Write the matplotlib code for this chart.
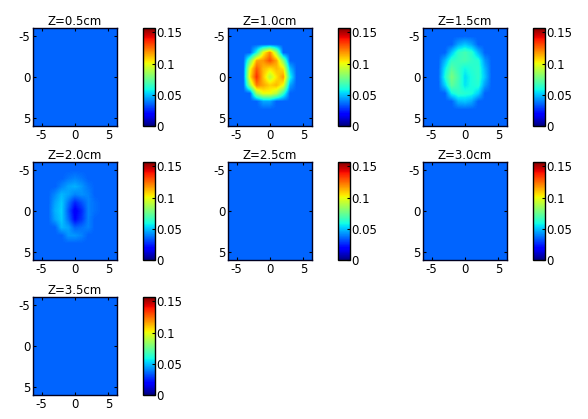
import matplotlib
matplotlib.use('Agg')
import matplotlib.pyplot as plt
import numpy as np

plt.rcParams['font.family'] = ['DejaVu Sans']
plt.rcParams['font.size'] = 8.5
plt.rcParams['axes.unicode_minus'] = False

# 切片深度
titles = ['Z=0.5cm', 'Z=1.0cm', 'Z=1.5cm', 'Z=2.0cm', 'Z=2.5cm', 'Z=3.0cm', 'Z=3.5cm']

# 背景值
bg = 0.035
b = bg

# 网格 x,y = -6..6 (步长 1), 行自上而下 y=-6..6
z10 = [
    [b, b, b, b, b, b, b, b, b, b, b, b, b],
    [b, b, b, b, b, b, b, b, b, b, b, b, b],
    [b, b, b, b, b, b, b, b, b, b, b, b, b],
    [b, b, b, b, 0.06, 0.10, 0.12, 0.085, b, b, b, b, b],
    [b, b, b, 0.075, 0.115, 0.118, 0.13, 0.115, 0.08, b, b, b, b],
    [b, b, b, 0.10, 0.128, 0.112, 0.105, 0.112, 0.105, 0.05, b, b, b],
    [b, b, b, 0.105, 0.135, 0.11, 0.09, 0.105, 0.118, 0.06, b, b, b],
    [b, b, b, 0.085, 0.122, 0.115, 0.108, 0.112, 0.10, 0.045, b, b, b],
    [b, b, b, b, 0.085, 0.10, 0.10, 0.09, 0.065, b, b, b, b],
    [b, b, b, b, b, 0.045, 0.045, b, b, b, b, b, b],
    [b, b, b, b, b, b, b, b, b, b, b, b, b],
    [b, b, b, b, b, b, b, b, b, b, b, b, b],
    [b, b, b, b, b, b, b, b, b, b, b, b, b],
]

z15 = [
    [b, b, b, b, b, b, b, b, b, b, b, b, b],
    [b, b, b, b, b, b, b, b, b, b, b, b, b],
    [b, b, b, b, b, 0.045, 0.05, 0.045, b, b, b, b, b],
    [b, b, b, b, 0.05, 0.064, 0.068, 0.063, 0.048, b, b, b, b],
    [b, b, b, 0.048, 0.064, 0.066, 0.068, 0.064, 0.062, 0.043, b, b, b],
    [b, b, b, 0.056, 0.072, 0.065, 0.058, 0.062, 0.064, 0.048, b, b, b],
    [b, b, b, 0.06, 0.078, 0.068, 0.054, 0.06, 0.064, 0.05, b, b, b],
    [b, b, b, 0.052, 0.073, 0.066, 0.055, 0.06, 0.062, 0.044, b, b, b],
    [b, b, b, b, 0.058, 0.064, 0.062, 0.06, 0.052, b, b, b, b],
    [b, b, b, b, b, 0.048, 0.05, 0.046, b, b, b, b, b],
    [b, b, b, b, b, b, b, b, b, b, b, b, b],
    [b, b, b, b, b, b, b, b, b, b, b, b, b],
    [b, b, b, b, b, b, b, b, b, b, b, b, b],
]

z20 = [
    [b, b, b, b, b, b, b, b, b, b, b, b, b],
    [b, b, b, b, b, b, b, b, b, b, b, b, b],
    [b, b, b, b, b, 0.038, 0.04, 0.038, b, b, b, b, b],
    [b, b, b, b, 0.04, 0.045, 0.047, 0.043, 0.038, b, b, b, b],
    [b, b, b, 0.041, 0.048, 0.045, 0.04, 0.042, 0.04, b, b, b, b],
    [b, b, b, 0.045, 0.051, 0.038, 0.025, 0.032, 0.04, 0.037, b, b, b],
    [b, b, b, 0.047, 0.052, 0.034, 0.017, 0.026, 0.04, 0.037, b, b, b],
    [b, b, b, 0.045, 0.051, 0.037, 0.02, 0.028, 0.04, b, b, b, b],
    [b, b, b, b, 0.048, 0.045, 0.035, 0.037, 0.04, b, b, b, b],
    [b, b, b, b, b, 0.043, 0.043, 0.04, b, b, b, b, b],
    [b, b, b, b, b, b, b, b, b, b, b, b, b],
    [b, b, b, b, b, b, b, b, b, b, b, b, b],
    [b, b, b, b, b, b, b, b, b, b, b, b, b],
]

flat = np.full((13, 13), bg)
slices = [flat, z10, z15, z20, flat, flat, flat]

vmin, vmax = 0.0, 0.157
cticks = [0, 0.05, 0.1, 0.15]
clabels = ['0', '0.05', '0.1', '0.15']

fig = plt.figure(figsize=(5.88, 4.19), dpi=100)

# 各子图位置 (像素)
col_left = [33, 228, 423]
cbar_left = [143, 338, 533]
row_top = [28, 162, 297]
W, H = 588.0, 419.0
aw, ah, cw = 84, 98, 12

for i, (t, data) in enumerate(zip(titles, slices)):
    r, c = divmod(i, 3)
    ax = fig.add_axes([col_left[c] / W, 1 - (row_top[r] + ah) / H, aw / W, ah / H])
    im = ax.imshow(np.array(data), cmap='jet', vmin=vmin, vmax=vmax,
                   extent=[-6.5, 6.5, 6.5, -6.5], interpolation='bilinear', aspect='auto')
    ax.set_xlim(-6.3, 6.3)
    ax.set_ylim(6, -6)
    ax.set_xticks([-5, 0, 5])
    ax.set_yticks([-5, 0, 5])
    ax.tick_params(direction='in', length=2, top=True, right=True, pad=2)
    for s in ax.spines.values():
        s.set_linewidth(1.0)
        s.set_color('#000020')
    ax.set_title(t, fontsize=8.5, pad=2)

    cax = fig.add_axes([cbar_left[c] / W, 1 - (row_top[r] + ah) / H, cw / W, ah / H])
    cb = fig.colorbar(im, cax=cax, ticks=cticks)
    cb.ax.set_yticklabels(clabels)
    cb.ax.tick_params(direction='in', length=2, pad=1)
    cb.outline.set_linewidth(1.0)

fig.savefig('out.png', dpi=100)
